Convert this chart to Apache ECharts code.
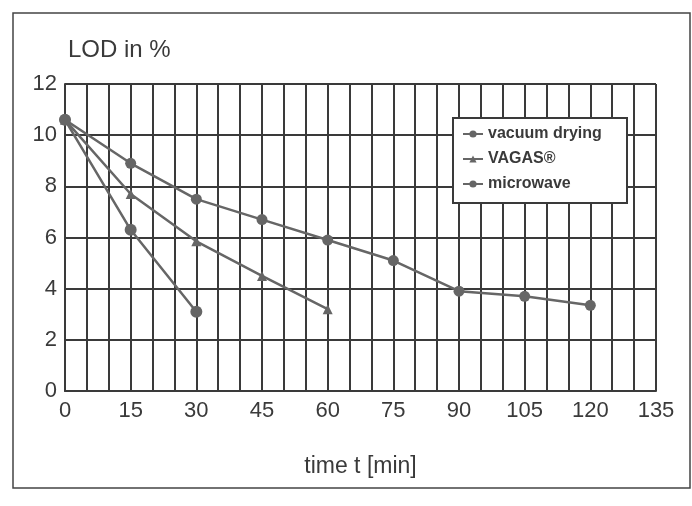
<!DOCTYPE html>
<html>
<head>
<meta charset="utf-8">
<script src="https://cdn.jsdelivr.net/npm/echarts@6/dist/echarts.min.js"></script>
<style>html,body{margin:0;padding:0;background:#fff}#c{width:692px;height:506px}</style>
</head>
<body>
<div id="c"></div>
<script>
var times = [0, 15, 30, 45, 60, 75, 90, 105, 120];
var vacuumDrying = [10.6, 8.9, 7.5, 6.7, 5.9, 5.1, 3.9, 3.7, 3.35];
var vagasTimes = [0, 15, 30, 45, 60];
var vagas = [10.6, 7.7, 5.85, 4.5, 3.2];
var microwaveTimes = [0, 15, 30];
var microwave = [10.6, 6.3, 3.1];
var seriesNames = ['vacuum drying', 'VAGAS\u00ae', 'microwave'];

function pairs(xs, ys) { return xs.map(function (x, i) { return [x, ys[i]]; }); }

var ink = '#3a3a3a';
var lineCol = '#666666';
var chart = echarts.init(document.getElementById('c'), null, {renderer: 'canvas'});
chart.setOption({
  backgroundColor: '#fff',
  animation: false,
  title: {
    text: 'LOD in %', left: 63, top: 33,
    textStyle: {fontFamily: 'Liberation Sans', fontSize: 24, fontWeight: 'normal', color: ink}
  },
  grid: {left: 65, right: 36, top: 84, bottom: 115},
  xAxis: {
    type: 'value', min: 0, max: 135, interval: 15,
    name: 'time t [min]', nameLocation: 'middle', nameGap: 64,
    nameTextStyle: {fontFamily: 'Liberation Sans', fontSize: 23, color: ink},
    axisLine: {show: true, lineStyle: {color: ink, width: 2}},
    axisTick: {show: false},
    axisLabel: {margin: 9, fontFamily: 'Liberation Sans', fontSize: 22, color: ink},
    splitLine: {show: true, lineStyle: {color: ink, width: 2}},
    minorTick: {show: false, splitNumber: 3},
    minorSplitLine: {show: true, lineStyle: {color: ink, width: 2}}
  },
  yAxis: {
    type: 'value', min: 0, max: 12, interval: 2,
    axisLine: {show: true, lineStyle: {color: ink, width: 2}},
    axisTick: {show: false},
    axisLabel: {margin: 8, fontFamily: 'Liberation Sans', fontSize: 22, color: ink},
    splitLine: {show: true, lineStyle: {color: ink, width: 2}}
  },
  legend: {
    orient: 'vertical', left: 457, top: 121, itemGap: 9, itemWidth: 20, itemHeight: 9,
    data: seriesNames,
    textStyle: {fontFamily: 'Liberation Sans', fontSize: 16, fontWeight: 'bold', color: ink},
    z: 10
  },
  graphic: [
    {type: 'rect', z: 5, shape: {x: 453, y: 118, width: 174, height: 85},
     style: {fill: '#fff', stroke: ink, lineWidth: 2}},
    {type: 'rect', z: 0, silent: true, shape: {x: 13, y: 13, width: 677, height: 475},
     style: {fill: 'none', stroke: '#444', lineWidth: 1.5}}
  ],
  series: [
    {name: seriesNames[0], type: 'line', data: pairs(times, vacuumDrying),
     symbol: 'circle', symbolSize: 11, itemStyle: {color: lineCol},
     lineStyle: {color: lineCol, width: 2.5}},
    {name: seriesNames[1], type: 'line', data: pairs(vagasTimes, vagas),
     symbol: 'triangle', symbolSize: 10, itemStyle: {color: lineCol},
     lineStyle: {color: lineCol, width: 2.5}},
    {name: seriesNames[2], type: 'line', data: pairs(microwaveTimes, microwave),
     symbol: 'circle', symbolSize: 12, itemStyle: {color: lineCol},
     lineStyle: {color: lineCol, width: 2.5}}
  ]
});
</script>
</body>
</html>
